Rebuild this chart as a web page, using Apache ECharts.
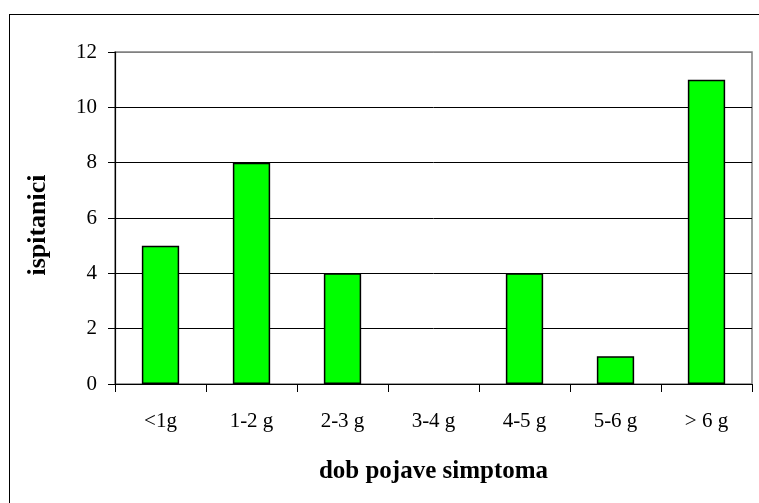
<!DOCTYPE html>
<html>
<head>
<meta charset="utf-8">
<script src="https://cdn.jsdelivr.net/npm/echarts@6/dist/echarts.min.js"></script>
<style>
html,body{margin:0;padding:0;width:759px;height:503px;overflow:hidden;background:#fff;}
#frame{position:absolute;left:9px;top:14px;width:800px;height:600px;border:1.5px solid #000;box-sizing:border-box;}
#chart{position:absolute;left:0;top:0;width:759px;height:503px;}
</style>
</head>
<body>
<div id="frame"></div>
<div id="chart"></div>
<script>
const categories = ['<1g', '1-2 g', '2-3 g', '3-4 g', '4-5 g', '5-6 g', '> 6 g'];
const values = [5, 8, 4, 0, 4, 1, 11];
const yTicks = [0, 2, 4, 6, 8, 10, 12];

const font = 'Liberation Serif';
const chart = echarts.init(document.getElementById('chart'), null, {renderer: 'canvas'});
chart.setOption({
  animation: false,
  grid: {left: 115, top: 52, width: 637, height: 332, show: true, borderColor: '#808080', borderWidth: 1.5},
  xAxis: {
    type: 'category',
    data: categories,
    boundaryGap: true,
    axisLine: {lineStyle: {color: '#000', width: 1.2}},
    axisTick: {show: true, length: 8, alignWithLabel: false, lineStyle: {color: '#000', width: 1}},
    axisLabel: {color: '#000', fontFamily: font, fontSize: 21, margin: 27},
    name: 'dob pojave simptoma',
    nameLocation: 'middle',
    nameGap: 75,
    nameTextStyle: {color: '#000', fontFamily: font, fontSize: 25, fontWeight: 'bold'}
  },
  yAxis: {
    type: 'value',
    min: yTicks[0],
    max: yTicks[yTicks.length - 1],
    interval: 2,
    axisLine: {show: true, lineStyle: {color: '#000', width: 1.2}},
    axisTick: {show: true, length: 7, inside: false, lineStyle: {color: '#000', width: 1}},
    axisLabel: {color: '#000', fontFamily: font, fontSize: 21, margin: 18},
    splitLine: {show: true, lineStyle: {color: ['#000', '#000', '#000', '#000', '#000', '#000', '#808080'], width: 1}},
    name: 'ispitanici',
    nameLocation: 'middle',
    nameGap: 64,
    nameRotate: 90,
    nameTextStyle: {color: '#000', fontFamily: font, fontSize: 26, fontWeight: 'bold', padding: [0, 0, 0, -14]}
  },
  series: [{
    type: 'bar',
    data: values.map(v => v === 0 ? {value: v, itemStyle: {borderWidth: 0}} : v),
    barWidth: '41%',
    itemStyle: {color: '#00FF00', borderColor: '#000', borderWidth: 1.5}
  }]
});
</script>
</body>
</html>
